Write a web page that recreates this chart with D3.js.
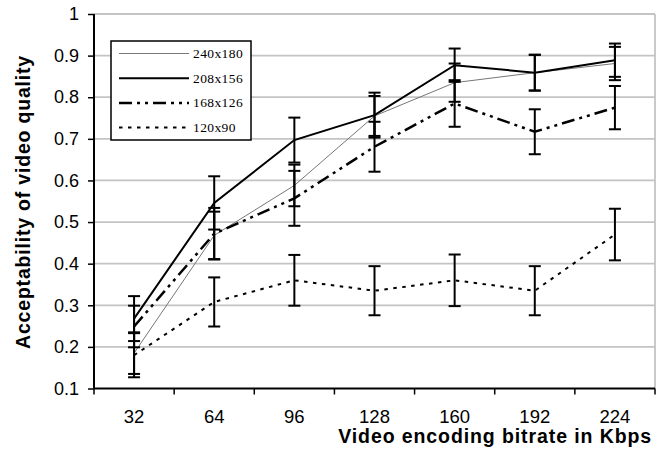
<!DOCTYPE html>
<html>
<head>
<meta charset="utf-8">
<script src="https://cdn.jsdelivr.net/npm/d3@7"></script>
<style>
  body { margin: 0; background: #fff; }
  svg { display: block; }
</style>
</head>
<body>
<div id="chart"></div>
<script>
// data
var categories = ["32", "64", "96", "128", "160", "192", "224"];
var yTicks = [0.1, 0.2, 0.3, 0.4, 0.5, 0.6, 0.7, 0.8, 0.9, 1];
var yTickLabels = ["0.1", "0.2", "0.3", "0.4", "0.5", "0.6", "0.7", "0.8", "0.9", "1"];

var seriesNames = ["240x180", "208x156", "168x126", "120x90"];
var v240 = [0.185, 0.468, 0.588, 0.755, 0.835, 0.859, 0.881];
var e240 = [0.05, 0.057, 0.05, 0.048, 0.046, 0.043, 0.04];
var v208 = [0.268, 0.546, 0.697, 0.757, 0.877, 0.859, 0.889];
var e208 = [0.054, 0.064, 0.054, 0.054, 0.04, 0.043, 0.04];
var v168 = [0.249, 0.472, 0.557, 0.681, 0.785, 0.717, 0.775];
var e168 = [0.05, 0.062, 0.066, 0.06, 0.056, 0.054, 0.052];
var v120 = [0.18, 0.308, 0.36, 0.335, 0.36, 0.335, 0.47];
var e120 = [0.053, 0.059, 0.061, 0.059, 0.062, 0.059, 0.062];

var W = 662, H = 453;
var plot = {left: 94, right: 655, top: 14, bottom: 388.5};
var sans = "'Liberation Sans', Arial, sans-serif";

var svg = d3.select("#chart").append("svg")
  .attr("width", W).attr("height", H);

var x = d3.scaleBand().domain(categories).range([plot.left, plot.right]).padding(0);
var y = d3.scaleLinear().domain([0.1, 1]).range([plot.bottom, plot.top]);
var cx = function(c) { return x(c) + x.bandwidth() / 2; };

// gridlines
svg.append("g").selectAll("line").data(yTicks.slice(1)).enter().append("line")
  .attr("x1", plot.left).attr("x2", plot.right)
  .attr("y1", d => y(d)).attr("y2", d => y(d))
  .attr("stroke", "#c4c4c4").attr("stroke-width", 1.8);
// right border
svg.append("line")
  .attr("x1", plot.right).attr("x2", plot.right).attr("y1", plot.top).attr("y2", plot.bottom)
  .attr("stroke", "#c4c4c4").attr("stroke-width", 1.8);

// y axis
var yAxis = svg.append("g")
  .attr("transform", "translate(" + plot.left + ",0)")
  .call(d3.axisLeft(y).tickValues(yTicks).tickSize(6).tickPadding(9)
    .tickFormat((d, i) => yTickLabels[i]));
yAxis.select(".domain").attr("stroke", "#000").attr("stroke-width", 2)
  .attr("d", "M0," + plot.top + "V" + plot.bottom);
yAxis.selectAll(".tick line").attr("stroke-width", 1.5);
yAxis.selectAll("text").attr("font-family", sans)
  .attr("font-size", 18).attr("fill", "#000");

// x axis: ticks at category borders, labels at centres
var xg = svg.append("g");
xg.append("line").attr("x1", plot.left).attr("x2", plot.right)
  .attr("y1", plot.bottom).attr("y2", plot.bottom)
  .attr("stroke", "#000").attr("stroke-width", 2);
var edges = categories.map(c => x(c)).concat([plot.right]);
xg.selectAll(".xt").data(edges).enter().append("line")
  .attr("class", "xt")
  .attr("x1", d => d).attr("x2", d => d).attr("y1", plot.bottom).attr("y2", plot.bottom + 6)
  .attr("stroke", "#000").attr("stroke-width", 1.5);
xg.selectAll(".xl").data(categories).enter().append("text")
  .attr("class", "xl")
  .attr("x", d => cx(d)).attr("y", 423)
  .attr("text-anchor", "middle")
  .attr("font-family", sans)
  .attr("font-size", 18.5)
  .text(d => d);

// axis titles
svg.append("text")
  .attr("x", 652).attr("y", 443)
  .attr("text-anchor", "end")
  .attr("font-family", sans)
  .attr("font-weight", "bold").attr("font-size", 19.5)
  .attr("letter-spacing", 0.9)
  .text("Video encoding bitrate in Kbps");
svg.append("text")
  .attr("transform", "translate(30,202) rotate(-90)")
  .attr("text-anchor", "middle")
  .attr("font-family", sans)
  .attr("font-weight", "bold").attr("font-size", 19.5)
  .attr("letter-spacing", 0.8)
  .text("Acceptability of video quality");

// series
var series = [
  {name: seriesNames[0], vals: v240, errs: e240, stroke: "#777", width: 1, dash: null},
  {name: seriesNames[1], vals: v208, errs: e208, stroke: "#000", width: 2, dash: null},
  {name: seriesNames[2], vals: v168, errs: e168, stroke: "#000", width: 2.5, dash: "13,5,3,5,3,5"},
  {name: seriesNames[3], vals: v120, errs: e120, stroke: "#000", width: 2, dash: "3.5,5.5"}
];

var line = d3.line().x((d, i) => cx(categories[i])).y(d => y(d));

series.forEach(function(s) {
  svg.append("path")
    .datum(s.vals)
    .attr("d", line)
    .attr("fill", "none")
    .attr("stroke", s.stroke)
    .attr("stroke-width", s.width)
    .attr("stroke-dasharray", s.dash);
});

// error bars
series.forEach(function(s) {
  var g = svg.append("g").attr("stroke", "#000").attr("stroke-width", 2);
  s.vals.forEach(function(v, i) {
    var px = cx(categories[i]);
    var hi = y(v + s.errs[i]), lo = y(v - s.errs[i]);
    g.append("line").attr("x1", px).attr("x2", px).attr("y1", hi).attr("y2", lo);
    g.append("line").attr("x1", px - 6).attr("x2", px + 6).attr("y1", hi).attr("y2", hi);
    g.append("line").attr("x1", px - 6).attr("x2", px + 6).attr("y1", lo).attr("y2", lo);
  });
});

// legend
var lg = svg.append("g");
lg.append("rect").attr("x", 111).attr("y", 41).attr("width", 140).attr("height", 99)
  .attr("fill", "#fff").attr("stroke", "#000").attr("stroke-width", 1.5);
series.forEach(function(s, i) {
  var ly = 53.5 + i * 24.7;
  lg.append("line").attr("x1", 119).attr("x2", 189).attr("y1", ly).attr("y2", ly)
    .attr("stroke", s.stroke).attr("stroke-width", s.width).attr("stroke-dasharray", s.dash);
  lg.append("text").attr("x", 193).attr("y", ly + 4.5)
    .attr("font-family", "'Liberation Serif', 'Times New Roman', serif")
    .attr("font-size", 13.5).attr("letter-spacing", 0.4)
    .text(s.name);
});
</script>
</body>
</html>
